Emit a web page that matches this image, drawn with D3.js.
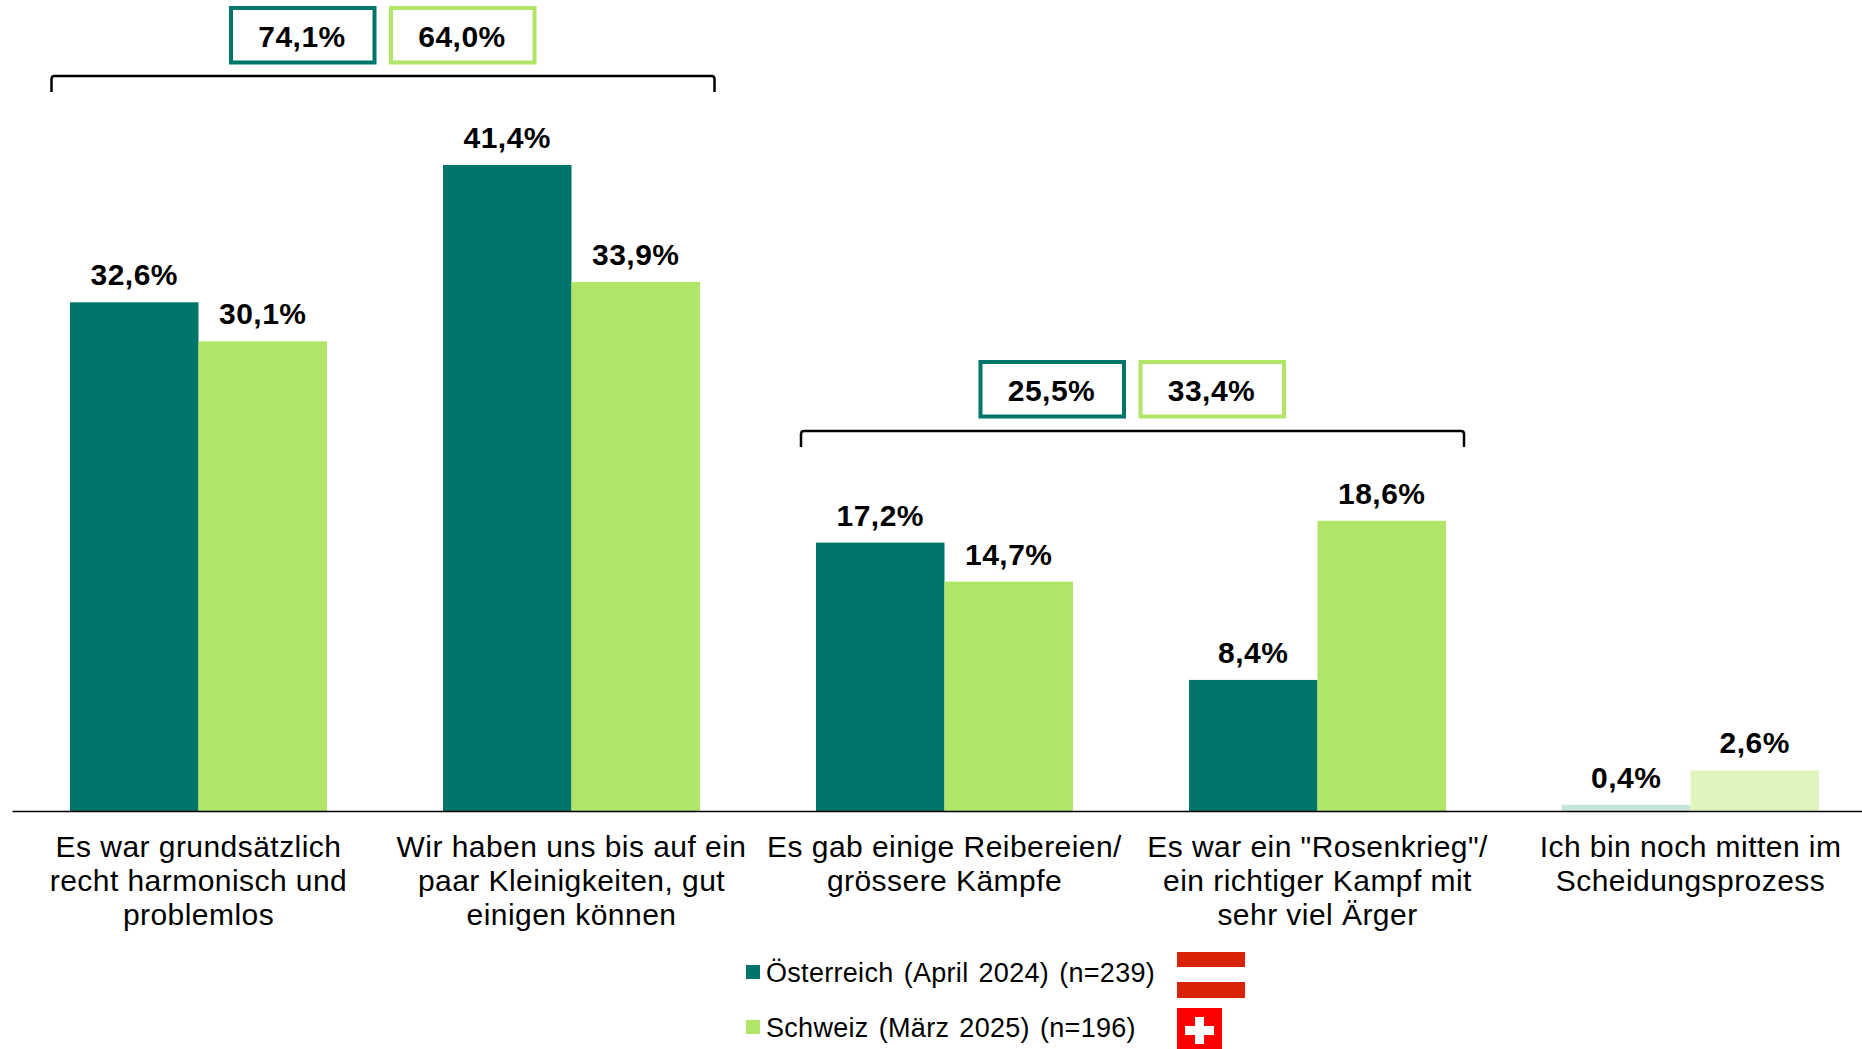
<!DOCTYPE html>
<html>
<head>
<meta charset="utf-8">
<script src="https://cdn.jsdelivr.net/npm/d3@7"></script>
<style>
  html, body { margin: 0; padding: 0; background: #fff; }
  text { font-family: "Liberation Sans", Arial, sans-serif; fill: #000; }
</style>
</head>
<body>
<div id="container"></div>
<script>
var categories = [
  "Es war grundsätzlich recht harmonisch und problemlos",
  "Wir haben uns bis auf ein paar Kleinigkeiten, gut einigen können",
  "Es gab einige Reibereien/ grössere Kämpfe",
  "Es war ein \"Rosenkrieg\"/ ein richtiger Kampf mit sehr viel Ärger",
  "Ich bin noch mitten im Scheidungsprozess"
];
var tickLines = [
  ["Es war grundsätzlich", "recht harmonisch und", "problemlos"],
  ["Wir haben uns bis auf ein", "paar Kleinigkeiten, gut", "einigen können"],
  ["Es gab einige Reibereien/", "grössere Kämpfe"],
  ["Es war ein \"Rosenkrieg\"/", "ein richtiger Kampf mit", "sehr viel Ärger"],
  ["Ich bin noch mitten im", "Scheidungsprozess"]
];
var austria = [32.6, 41.4, 17.2, 8.4, 0.4];
var swiss = [30.1, 33.9, 14.7, 18.6, 2.6];
var seriesNames = ["Österreich (April 2024) (n=239)", "Schweiz (März 2025) (n=196)"];
var sumLabels = [["74,1%", "64,0%"], ["25,5%", "33,4%"]];

var teal = "#00756a", lime = "#b1e567";
var tealLight = "#c8e5d9", limeLight = "#dff4be";

var width = 1862, height = 1049;
var svg = d3.select("#container").append("svg")
  .attr("width", width).attr("height", height)
  .style("display", "block");

var x = d3.scaleBand().domain(categories).range([12, 1877]).paddingInner(0).paddingOuter(0);
var y = d3.scaleLinear().domain([0, 41.4]).range([811, 165]);
var barW = 128.5;

function fmt(v) { return v.toFixed(1).replace(".", ",") + "%"; }

// bars, teal left of the band centre and lime right of it
function drawSeries(values, side, color, lightColor) {
  var g = svg.append("g");
  var cx = function (d, i) { return x(categories[i]) + x.bandwidth() / 2; };
  g.selectAll("rect").data(values).enter().append("rect")
    .attr("x", function (d, i) { return side < 0 ? cx(d, i) - barW : cx(d, i); })
    .attr("y", function (d) { return y(d); })
    .attr("width", barW)
    .attr("height", function (d) { return y(0) - y(d); })
    .attr("fill", function (d, i) { return i === 4 ? lightColor : color; });
  g.selectAll("text").data(values).enter().append("text")
    .attr("x", function (d, i) { return cx(d, i) + side * barW / 2; })
    .attr("y", function (d) { return y(d) - 17; })
    .attr("text-anchor", "middle")
    .style("font-size", "30px")
    .style("font-weight", "bold")
    .style("letter-spacing", "0.5px")
    .text(fmt);
}
drawSeries(austria, -1, teal, tealLight);
drawSeries(swiss, 1, lime, limeLight);

// x axis
var axis = svg.append("g")
  .attr("transform", "translate(0,811)")
  .call(d3.axisBottom(x).tickSize(0).tickFormat(""));
axis.select(".domain").attr("stroke", "#000").attr("stroke-width", 1.5);
axis.selectAll(".tick").each(function (d, i) {
  var t = d3.select(this).append("text")
    .attr("text-anchor", "middle")
    .style("font-size", "30px")
    .style("letter-spacing", "0.45px");
  t.selectAll("tspan").data(tickLines[i]).enter().append("tspan")
    .attr("x", 0)
    .attr("y", function (l, j) { return 45.5 + j * 34; })
    .text(function (l) { return l; });
});

// sum boxes and brackets
function drawSum(labels, boxX, boxY, brLeft, brRight, brY) {
  var g = svg.append("g");
  g.append("path")
    .attr("d", "M" + brLeft + "," + (brY + 16) + "V" + (brY + 3) + "Q" + brLeft + "," + brY + " " + (brLeft + 3) + "," + brY +
      "H" + (brRight - 3) + "Q" + brRight + "," + brY + " " + brRight + "," + (brY + 3) + "V" + (brY + 16))
    .attr("fill", "none").attr("stroke", "#000").attr("stroke-width", 2.5);
  labels.forEach(function (l, i) {
    var bx = boxX + i * 160;
    g.append("rect")
      .attr("x", bx + 2).attr("y", boxY + 2)
      .attr("width", 143.5).attr("height", 54.5)
      .attr("fill", "#fff")
      .attr("stroke", i === 0 ? teal : lime)
      .attr("stroke-width", 4);
    g.append("text")
      .attr("x", bx + 73).attr("y", boxY + 40.5)
      .attr("text-anchor", "middle")
      .style("font-size", "30px").style("font-weight", "bold")
      .style("letter-spacing", "0.5px")
      .text(l);
  });
}
drawSum(sumLabels[0], 229, 6, 51.5, 714.5, 76);
drawSum(sumLabels[1], 978.5, 360, 801, 1464, 431);

// legend
var legendY = [965, 1020];
seriesNames.forEach(function (n, i) {
  svg.append("rect")
    .attr("x", 746).attr("y", legendY[i])
    .attr("width", 14).attr("height", 14)
    .attr("fill", i === 0 ? teal : lime);
  svg.append("text")
    .attr("x", 766).attr("y", legendY[i] + 16.5)
    .style("font-size", "27px")
    .style("letter-spacing", "0.3px")
    .style("word-spacing", "2.3px")
    .text(n);
});

// flags
svg.append("rect").attr("x", 1177).attr("y", 952).attr("width", 68).attr("height", 15).attr("fill", "#d92308");
svg.append("rect").attr("x", 1177).attr("y", 982).attr("width", 68).attr("height", 16).attr("fill", "#d92308");
svg.append("rect").attr("x", 1177).attr("y", 1008).attr("width", 45).attr("height", 41).attr("fill", "#ff0000");
svg.append("rect").attr("x", 1185).attr("y", 1026).attr("width", 29).attr("height", 9).attr("fill", "#fff");
svg.append("rect").attr("x", 1195).attr("y", 1017).attr("width", 9).attr("height", 27).attr("fill", "#fff");
</script>
</body>
</html>
